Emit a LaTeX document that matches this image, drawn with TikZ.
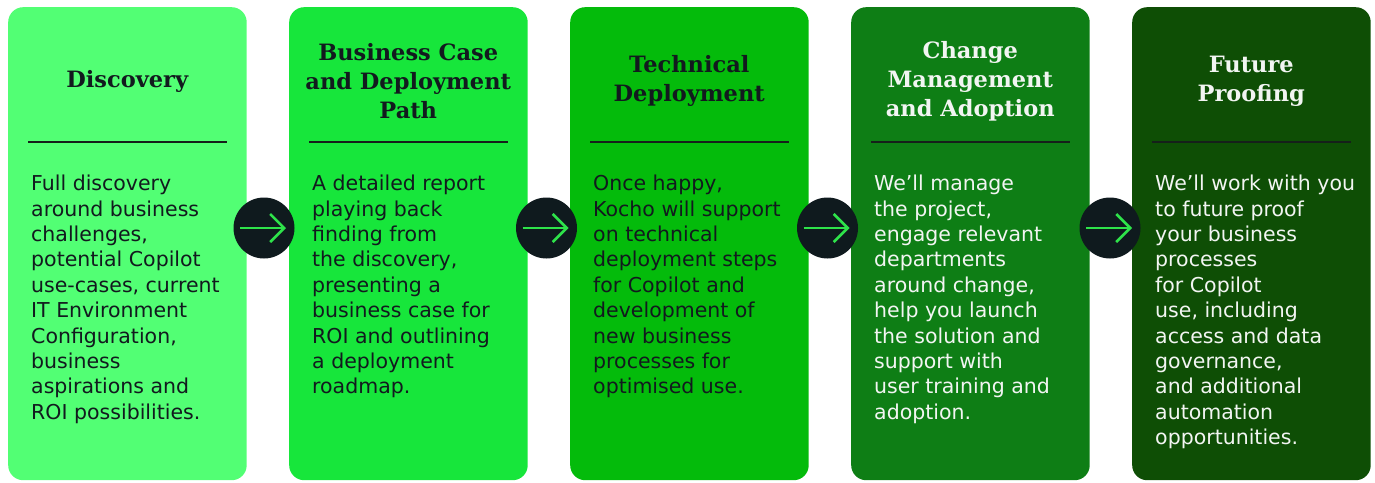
\documentclass[tikz,border=0pt]{standalone}
\usepackage{fontspec}
\setmainfont{DejaVu Sans}
\newfontfamily\titlefont{DejaVu Serif}
\usetikzlibrary{arrows.meta}
\definecolor{cA}{HTML}{52FF74}
\definecolor{cB}{HTML}{17E63B}
\definecolor{cC}{HTML}{04BB0B}
\definecolor{cD}{HTML}{0E7E15}
\definecolor{cE}{HTML}{0E4E05}
\definecolor{darkT}{HTML}{121A1E}
\definecolor{lightT}{HTML}{F2F5F2}
\definecolor{circC}{HTML}{0F1A1E}
\definecolor{arrC}{HTML}{2EE34A}
\definecolor{ruleC}{HTML}{15201A}
\begin{document}
\begin{tikzpicture}[x=1pt,y=-1pt,
  card/.style={rounded corners=15pt, draw=none, minimum width=238.5pt, minimum height=473pt, anchor=north west, inner sep=0pt},
  ttl/.style={font=\titlefont\bfseries\fontsize{22.5}{29}\selectfont, align=center, inner sep=0pt},
  bodytxt/.style={font=\fontsize{20.5}{25.4}\selectfont, align=left, inner sep=0pt, anchor=north west},
  rulestyle/.style={draw=ruleC, line width=1.3pt},
  circ/.style={circle, fill=circC, minimum size=61pt, inner sep=0pt},
  arr/.style={draw=arrC, line width=2.5pt, -{Straight Barb[length=14pt,width=28pt,line width=2.5pt]}}
]
\path[use as bounding box] (0,0) rectangle (1375,482);
% cards
\node[card, fill=cA] (b1) at (8,7) {};
\node[card, fill=cB] (b2) at (289,7) {};
\node[card, fill=cC] (b3) at (570,7) {};
\node[card, fill=cD] (b4) at (851,7) {};
\node[card, fill=cE] (b5) at (1132,7) {};
% titles
\node[ttl, text=darkT] (t1) at (127.25,81) {Discovery};
\node[ttl, text=darkT] (t2) at (408.25,81) {Business Case\\and Deployment\\Path};
\node[ttl, text=darkT] (t3) at (689.25,81) {Technical\\Deployment};
\node[ttl, text=lightT] (t4) at (970.25,81) {Change\\Management\\and Adoption};
\node[ttl, text=lightT] (t5) at (1251.25,81) {Future\\Proofing};
% rules
\coordinate (r1a) at (28,142); \coordinate (r1b) at (227,142);
\coordinate (r2a) at (309,142); \coordinate (r2b) at (508,142);
\coordinate (r3a) at (590,142); \coordinate (r3b) at (789,142);
\coordinate (r4a) at (871,142); \coordinate (r4b) at (1070,142);
\coordinate (r5a) at (1152,142); \coordinate (r5b) at (1351,142);
\draw[rulestyle] (r1a) -- (r1b);
\draw[rulestyle] (r2a) -- (r2b);
\draw[rulestyle] (r3a) -- (r3b);
\draw[rulestyle] (r4a) -- (r4b);
\draw[rulestyle] (r5a) -- (r5b);
% bodies
\node[bodytxt, text=darkT] (p1) at (31,175) {Full discovery\\around business\\challenges,\\potential Copilot\\use-cases, current\\IT Environment\\Configuration,\\business\\aspirations and\\ROI possibilities.};
\node[bodytxt, text=darkT] (p2) at (312,175) {A detailed report\\playing back\\finding from\\the discovery,\\presenting a\\business case for\\ROI and outlining\\a deployment\\roadmap.};
\node[bodytxt, text=darkT] (p3) at (593,175) {Once happy,\\Kocho will support\\on technical\\deployment steps\\for Copilot and\\development of\\new business\\processes for\\optimised use.};
\node[bodytxt, text=lightT] (p4) at (874,175) {We’ll manage\\the project,\\engage relevant\\departments\\around change,\\help you launch\\the solution and\\support with\\user training and\\adoption.};
\node[bodytxt, text=lightT] (p5) at (1155,175) {We’ll work with you\\to future proof\\your business\\processes\\for Copilot\\use, including\\access and data\\governance,\\and additional\\automation\\opportunities.};
% connectors
\node[circ] (c1) at (264,228) {};
\node[circ] (c2) at (546.5,228) {};
\node[circ] (c3) at (827.5,228) {};
\node[circ] (c4) at (1110,228) {};
\draw[arr] ([xshift=-24pt]c1.center) -- ([xshift=22pt]c1.center);
\draw[arr] ([xshift=-24pt]c2.center) -- ([xshift=22pt]c2.center);
\draw[arr] ([xshift=-24pt]c3.center) -- ([xshift=22pt]c3.center);
\draw[arr] ([xshift=-24pt]c4.center) -- ([xshift=22pt]c4.center);
\end{tikzpicture}
\end{document}
